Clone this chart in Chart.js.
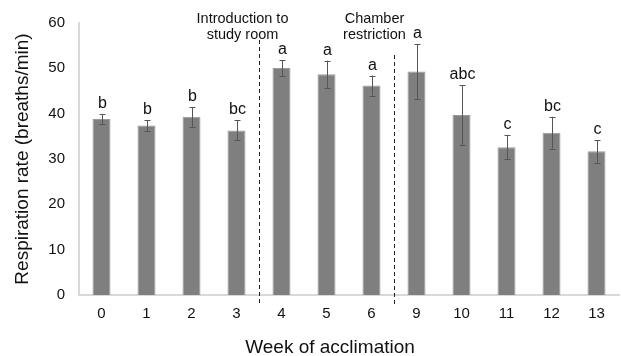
<!DOCTYPE html>
<html>
<head>
<meta charset="utf-8">
<script src="https://cdn.jsdelivr.net/npm/chart.js@4"></script>
<style>
  html, body { margin: 0; padding: 0; background: #fff; }
  #wrap { width: 621px; height: 356px; position: relative; }
</style>
</head>
<body>
<div id="wrap"><canvas id="c"></canvas></div>
<script>
// Weeks of acclimation (category labels)
const weeks = ['0', '1', '2', '3', '4', '5', '6', '9', '10', '11', '12', '13'];
// Mean respiration rate (breaths/min)
const meanRate = [38.8, 37.4, 39.3, 36.3, 50.1, 48.7, 46.2, 49.3, 39.7, 32.6, 35.8, 31.7];
// Error (± breaths/min)
const errRate = [1.1, 1.2, 2.2, 2.2, 1.75, 3.0, 2.2, 6.0, 6.6, 2.7, 3.5, 2.5];
// Significance letters
const sigLetters = ['b', 'b', 'b', 'bc', 'a', 'a', 'a', 'a', 'abc', 'c', 'bc', 'c'];
// Phase boundaries (between category indices) and their annotations
const phaseBreaks = [3.5, 6.5];
const phaseLabels = [['Introduction to', 'study room'], ['Chamber', 'restriction']];
const yTicks = [0, 10, 20, 30, 40, 50, 60];
const xTitle = 'Week of acclimation';

const FONT = '"Liberation Sans", Arial, sans-serif';

const overlay = {
  id: 'overlay',
  afterDatasetsDraw(chart) {
    const ctx = chart.ctx;
    const x = chart.scales.x, y = chart.scales.y;
    const area = chart.chartArea;
    ctx.save();
    // error bars
    ctx.strokeStyle = '#555555';
    ctx.lineWidth = 1;
    meanRate.forEach((m, i) => {
      const cx = Math.round(x.getPixelForValue(i)) + 0.5;
      const yt = y.getPixelForValue(m + errRate[i]);
      const yb = y.getPixelForValue(m - errRate[i]);
      ctx.beginPath();
      ctx.moveTo(cx, yt); ctx.lineTo(cx, yb);
      ctx.moveTo(cx - 3, Math.round(yt) + 0.5); ctx.lineTo(cx + 3, Math.round(yt) + 0.5);
      ctx.moveTo(cx - 3, Math.round(yb) + 0.5); ctx.lineTo(cx + 3, Math.round(yb) + 0.5);
      ctx.stroke();
      // significance letters
      ctx.fillStyle = '#111111';
      ctx.font = '16px ' + FONT;
      ctx.textAlign = 'center';
      ctx.textBaseline = 'alphabetic';
      ctx.fillText(sigLetters[i], cx, yt - 6);
    });
    // dashed phase lines
    const halfStep = (x.getPixelForValue(1) - x.getPixelForValue(0)) / 2;
    ctx.setLineDash([4, 3]);
    ctx.strokeStyle = '#222222';
    const tops = [40, 55];
    const linePx = phaseBreaks.map(b => Math.round(x.getPixelForValue(Math.floor(b)) + halfStep) + 0.5);
    linePx.forEach((px, k) => {
      ctx.beginPath();
      ctx.moveTo(px, tops[k]);
      ctx.lineTo(px, area.bottom + 10);
      ctx.stroke();
    });
    ctx.setLineDash([]);
    // phase annotations
    ctx.fillStyle = '#111111';
    ctx.font = '14.5px ' + FONT;
    ctx.textBaseline = 'middle';
    ctx.textAlign = 'center';
    const lx = [linePx[0] - 17, linePx[1] - 20];
    phaseLabels.forEach((lines, k) => {
      lines.forEach((t, j) => {
        ctx.fillText(t, lx[k], 19 + j * 16);
      });
    });
    // x axis title
    ctx.font = '19px ' + FONT;
    ctx.fillText(xTitle, 330, 348);
    ctx.restore();
  }
};

new Chart(document.getElementById('c'), {
  type: 'bar',
  data: {
    labels: weeks,
    datasets: [{
      data: meanRate,
      backgroundColor: '#7f7f7f',
      borderColor: '#9a9a9a',
      borderWidth: 1,
      categoryPercentage: 1,
      barPercentage: 0.4
    }]
  },
  options: {
    responsive: true,
    maintainAspectRatio: false,
    animation: false,
    events: [],
    layout: { padding: { top: 12, right: 2, left: 0, bottom: 0 } },
    plugins: { legend: { display: false }, tooltip: { enabled: false } },
    scales: {
      x: {
        grid: { display: false, drawTicks: false },
        border: { color: '#d9d9d9', width: 2 },
        ticks: { color: '#111', font: { family: FONT, size: 15 }, padding: 10 },
        afterFit(s) { s.height = 61; }
      },
      y: {
        min: 0, max: 60,
        afterBuildTicks(s) { s.ticks = yTicks.map(v => ({ value: v })); },
        grid: { display: false, drawTicks: false },
        border: { color: '#d9d9d9', width: 2 },
        ticks: { color: '#111', font: { family: FONT, size: 15 }, padding: 14 },
        title: { display: true, text: 'Respiration rate (breaths/min)', color: '#111', font: { family: FONT, size: 19 }, padding: { top: 11, bottom: 0 } },
        afterFit(s) { s.width = 79; }
      }
    }
  },
  plugins: [overlay]
});
</script>
</body>
</html>
